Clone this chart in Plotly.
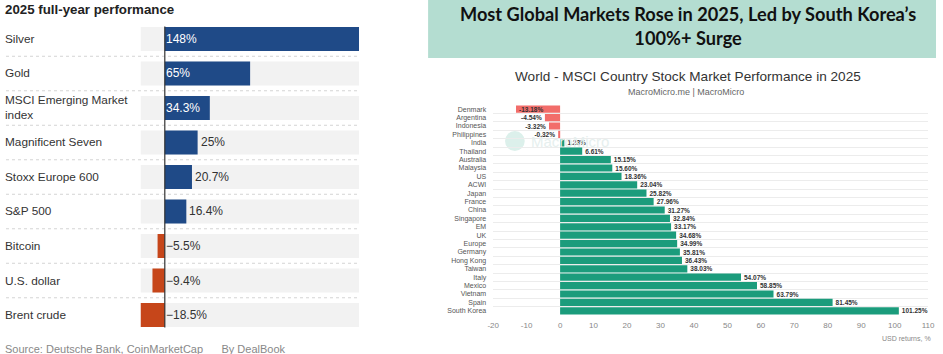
import plotly.graph_objects as go

W, H = 943, 354

# ---------------- Left chart data ----------------
assets = ["Silver", "Gold", "MSCI Emerging Market<br>index", "Magnificent Seven",
          "Stoxx Europe 600", "S&P 500", "Bitcoin", "U.S. dollar", "Brent crude"]
asset_returns = [148, 65, 34.3, 25, 20.7, 16.4, -5.5, -9.4, -18.5]
asset_labels = ["148%", "65%", "34.3%", "25%", "20.7%", "16.4%", "−5.5%", "−9.4%", "−18.5%"]

# ---------------- Right chart data ----------------
countries = ["Denmark", "Argentina", "Indonesia", "Philippines", "India", "Thailand",
             "Australia", "Malaysia", "US", "ACWI", "Japan", "France", "China",
             "Singapore", "EM", "UK", "Europe", "Germany", "Hong Kong", "Taiwan",
             "Italy", "Mexico", "Vietnam", "Spain", "South Korea"]
country_returns = [-13.18, -4.54, -3.32, -0.32, 1.28, 6.61, 15.15, 15.60, 18.36, 23.04,
                   25.82, 27.96, 31.27, 32.84, 33.17, 34.68, 34.99, 35.81, 36.43, 38.03,
                   54.07, 58.85, 63.79, 81.45, 101.25]
xticks = list(range(-20, 111, 10))

BLUE = "#1f4a87"
ORANGE = "#c6461a"
GREEN = "#1b9c7c"
RED = "#f26d6a"
FONT = "Liberation Sans"

def px_x(p):
    return p / W

def px_y(p):
    return 1 - p / H

fig = go.Figure()

# Left: background grey rows
lo, hi = min(asset_returns), max(asset_returns)
fig.add_trace(go.Bar(
    y=assets, x=[hi - lo] * len(assets), base=[lo] * len(assets), orientation="h",
    marker=dict(color="#f2f2f2", line=dict(width=0)), width=0.7,
    xaxis="x", yaxis="y", hoverinfo="skip", showlegend=False))
fig.add_trace(go.Bar(
    y=assets, x=asset_returns, orientation="h",
    marker=dict(color=[BLUE if v >= 0 else ORANGE for v in asset_returns], line=dict(width=0)),
    width=0.7, xaxis="x", yaxis="y", showlegend=False))

# Right: country bars
fig.add_trace(go.Bar(
    y=countries, x=country_returns, orientation="h",
    marker=dict(color=[GREEN if v >= 0 else RED for v in country_returns], line=dict(width=0)),
    width=0.86,
    text=[f"{v:.2f}%" for v in country_returns],
    textposition=["inside" if v < -10 else "outside" for v in country_returns],
    insidetextanchor="end",
    textfont=dict(size=6.5, color="#333", family=FONT, weight="bold"),
    insidetextfont=dict(size=6.5, color="#333", family=FONT, weight="bold"),
    outsidetextfont=dict(size=6.5, color="#333", family=FONT, weight="bold"),
    cliponaxis=False, constraintext="none",
    xaxis="x2", yaxis="y2", showlegend=False))

# Left axes geometry
pitch = 34.5
top_c = 39
n = len(assets)
y_top = top_c - pitch / 2
y_bot = top_c + (n - 1) * pitch + pitch / 2

shapes = []
annotations = []

# header band
shapes.append(dict(type="rect", xref="paper", yref="paper", x0=px_x(428), x1=1,
                   y0=px_y(58), y1=1, fillcolor="#b4ddd1", line=dict(width=0), layer="below"))

# separators left
for i in range(n - 1):
    shapes.append(dict(type="line", xref="paper", yref="y", x0=0, x1=px_x(358),
                       y0=i + 0.5, y1=i + 0.5, line=dict(color="#d4d4d4", width=1, dash="dot")))
# zero line left
shapes.append(dict(type="line", xref="x", yref="y", x0=0, x1=0, y0=-0.36, y1=n - 1 + 0.36,
                   line=dict(color="#333", width=1.2)))

# watermark
shapes.append(dict(type="circle", xref="paper", yref="paper",
                   x0=px_x(506), x1=px_x(526), y0=px_y(151), y1=px_y(131),
                   fillcolor="#dcf0eb", line=dict(width=0), layer="below"))
annotations.append(dict(text="MacroMicro", xref="paper", yref="paper", x=px_x(530), y=px_y(141),
                        xanchor="left", yanchor="middle", showarrow=False,
                        font=dict(size=15, color="#e6efee", family=FONT)))

# left title
annotations.append(dict(text="<b>2025 full-year performance</b>", xref="paper", yref="paper",
                        x=px_x(4), y=px_y(9), xanchor="left", yanchor="middle", showarrow=False,
                        xshift=-7, font=dict(size=13.3, color="#222", family=FONT)))
# left category labels
for a in assets:
    annotations.append(dict(text=a, xref="paper", yref="y", x=px_x(4), y=a, xanchor="left",
                            yanchor="middle", align="left", showarrow=False, xshift=-7,
                            font=dict(size=11.8, color="#333", family=FONT)))
# left value labels
for a, v, lab in zip(assets, asset_returns, asset_labels):
    inside = v >= 30
    annotations.append(dict(text=lab, xref="x", yref="y", x=(0 if (inside or v < 0) else v), y=a,
                            xanchor="left", yanchor="middle", xshift=-1 if (inside or v < 0) else 1,
                            showarrow=False,
                            font=dict(size=12, color="white" if inside else "#333", family=FONT)))
# source
annotations.append(dict(text="Source: Deutsche Bank, CoinMarketCap      By DealBook",
                        xref="paper", yref="paper", x=px_x(4), y=px_y(349), xanchor="left",
                        yanchor="middle", showarrow=False, xshift=-7,
                        font=dict(size=11, color="#888", family=FONT)))

# header title
annotations.append(dict(text="<b>Most Global Markets Rose in 2025, Led by South Korea’s<br>100%+ Surge</b>",
                        xref="paper", yref="paper", x=px_x(692), y=px_y(26), xanchor="center",
                        yanchor="middle", showarrow=False,
                        font=dict(size=18.2, color="#111", family="Lato")))
# right chart title
annotations.append(dict(text="World - MSCI Country Stock Market Performance in 2025",
                        xref="paper", yref="paper", x=px_x(692), y=px_y(76), xanchor="center",
                        yanchor="middle", showarrow=False,
                        font=dict(size=13.6, color="#333", family=FONT)))
annotations.append(dict(text="MacroMicro.me | MacroMicro",
                        xref="paper", yref="paper", x=px_x(689), y=px_y(92), xanchor="center",
                        yanchor="middle", showarrow=False,
                        font=dict(size=9, color="#666", family=FONT)))
annotations.append(dict(text="USD returns, %", xref="paper", yref="paper", x=px_x(940), y=px_y(338),
                        xanchor="right", yanchor="middle", showarrow=False,
                        font=dict(size=7, color="#888", family=FONT)))

fig.update_layout(
    width=W, height=H, margin=dict(l=0, r=0, t=0, b=0),
    paper_bgcolor="white", plot_bgcolor="rgba(0,0,0,0)",
    barmode="overlay",
    xaxis=dict(domain=[px_x(136.4), px_x(358)], range=[lo, hi], visible=False, fixedrange=True),
    yaxis=dict(domain=[px_y(y_bot), px_y(y_top)], type="category", categoryarray=assets,
               range=[n - 0.5, -0.5], visible=False),
    xaxis2=dict(domain=[px_x(494), px_x(935)], range=[-20, 110], tickvals=xticks,
                ticktext=[str(t) for t in xticks],
                showgrid=False, zeroline=False, showline=False, ticks="",
                tickfont=dict(size=8, color="#888", family=FONT), anchor="y2",
                ticklabelstandoff=4),
    yaxis2=dict(domain=[px_y(315), px_y(105)], type="category", categoryarray=countries,
                range=[len(countries) - 0.5, -0.5], anchor="x2", tickson="boundaries",
                showgrid=True, gridcolor="#ececec", gridwidth=1, ticks="", showline=False,
                zeroline=False, tickfont=dict(size=7, color="#555", family=FONT),
                ticklabelstandoff=6),
    shapes=shapes, annotations=annotations,
)

fig.write_html("out.html")
